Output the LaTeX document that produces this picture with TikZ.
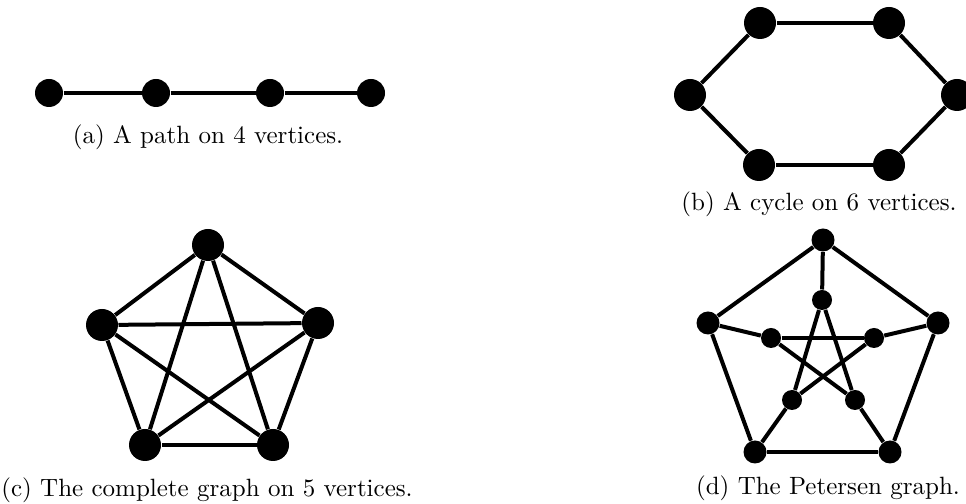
\documentclass[tikz,border=0pt]{standalone}
\usepackage{tikz}
\begin{document}
\begin{tikzpicture}[x=0.4pt,y=-0.4pt,v/.style={circle,fill,inner sep=0pt,minimum size=12.8pt},sv/.style={v,minimum size=9.2pt},iv/.style={v,minimum size=8pt},e/.style={line width=1.6pt}]
\useasboundingbox (0,0) rectangle (966,504);
% path
\node[v,minimum size=11.2pt] (a1) at (49,93) {};
\node[v,minimum size=11.2pt] (a2) at (156,93) {};
\node[v,minimum size=11.2pt] (a3) at (270,93) {};
\node[v,minimum size=11.2pt] (a4) at (371,93) {};
\draw[line width=1.3pt] (a1)--(a2); \draw[line width=1.3pt] (a2)--(a3); \draw[line width=1.3pt] (a3)--(a4);
\node (capa) at (208,137) {(a) A path on 4 vertices.};
% cycle
\node[v] (b1) at (760,23) {};
\node[v] (b2) at (889,23) {};
\node[v] (b3) at (957,95) {};
\node[v] (b4) at (889,165) {};
\node[v] (b5) at (759,165) {};
\node[v] (b6) at (690,95) {};
\draw[e] (b1)--(b2); \draw[e] (b2)--(b3); \draw[e] (b3)--(b4);
\draw[e] (b4)--(b5); \draw[e] (b5)--(b6); \draw[e] (b6)--(b1);
\node (capb) at (819,204) {(b) A cycle on 6 vertices.};
% complete graph
\node[v] (c1) at (208,245) {};
\node[v] (c2) at (318,323) {};
\node[v] (c3) at (273,445) {};
\node[v] (c4) at (145,445) {};
\node[v] (c5) at (102,325) {};
\draw[e] (c1)--(c2); \draw[e] (c1)--(c3); \draw[e] (c1)--(c4); \draw[e] (c1)--(c5);
\draw[e] (c2)--(c3); \draw[e] (c2)--(c4); \draw[e] (c2)--(c5);
\draw[e] (c3)--(c4); \draw[e] (c3)--(c5); \draw[e] (c4)--(c5);
\node (capc) at (207,490) {(c) The complete graph on 5 vertices.};
% petersen
\node[sv] (o1) at (823,240) {};
\node[sv] (o2) at (938,323) {};
\node[sv] (o3) at (890,452) {};
\node[sv] (o4) at (755,452) {};
\node[sv] (o5) at (708,323) {};
\node[iv] (i1) at (822,300) {};
\node[iv] (i2) at (874,338) {};
\node[iv] (i3) at (855,400) {};
\node[iv] (i4) at (792,400) {};
\node[iv] (i5) at (771,338) {};
\draw[e] (o1)--(o2); \draw[e] (o2)--(o3); \draw[e] (o3)--(o4); \draw[e] (o4)--(o5); \draw[e] (o5)--(o1);
\draw[e] (o1)--(i1); \draw[e] (o2)--(i2); \draw[e] (o3)--(i3); \draw[e] (o4)--(i4); \draw[e] (o5)--(i5);
\draw[e] (i1)--(i3); \draw[e] (i3)--(i5); \draw[e] (i5)--(i2); \draw[e] (i2)--(i4); \draw[e] (i4)--(i1);
\node (capd) at (828,488) {(d) The Petersen graph.};
\end{tikzpicture}
\end{document}
